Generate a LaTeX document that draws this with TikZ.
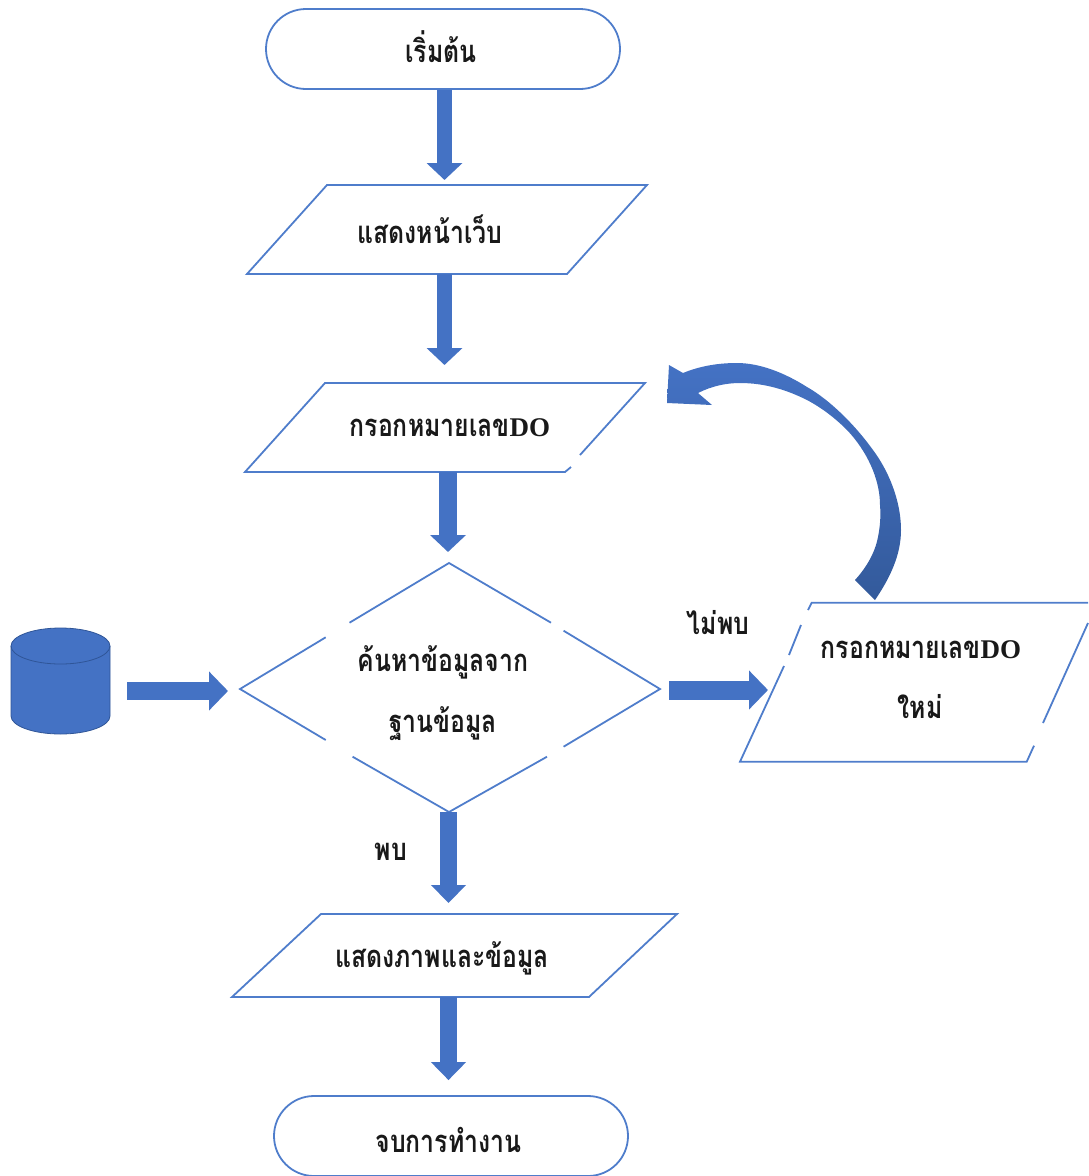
\documentclass[tikz,border=0pt]{standalone}
\usepackage{fontspec}
\usetikzlibrary{arrows.meta,shapes.misc}
\newfontfamily\thaifont[Script=Thai,FakeStretch=0.8,BoldFont={Loma Bold}]{Loma}
\newfontfamily\latinbold{Liberation Serif Bold}
\newcommand{\dolabel}{{\latinbold\fontsize{27}{27}\selectfont DO}}
\definecolor{flowline}{HTML}{4F7DCB}
\definecolor{flowfill}{HTML}{4472C4}
\definecolor{flowmid}{HTML}{3C66B0}
\definecolor{flowdark}{HTML}{335A9B}
\definecolor{rimdark}{HTML}{2F5597}
\tikzset{
  x=1pt,y=-1pt,
  outline/.style={draw=flowline,line width=1.8pt,line join=miter},
  box/.style={inner sep=0pt,outer sep=0pt,minimum width=#1},
  txt/.style={anchor=base,inner sep=0pt,outer sep=0pt,font=\thaifont\fontsize{31}{31}\selectfont,text=black!90},
  blk/.style args={#1/#2/#3}{draw=flowfill,line width=#1pt,-{Triangle[length=#3pt,width=#2pt,fill=flowfill]}},
}
\begin{document}
\begin{tikzpicture}
\useasboundingbox (0,0) rectangle (1088,1176);
% terminators
\node[rounded rectangle,outline,minimum width=354pt,minimum height=80pt,inner sep=0pt] (start) at (443,49) {};
\node[rounded rectangle,outline,minimum width=354pt,minimum height=80pt,inner sep=0pt] (finish) at (451,1136) {};
% bounding nodes of the outlined shapes
\node[box=400pt,minimum height=89pt] (show) at (447,229.5) {};
\node[box=400pt,minimum height=89pt] (enter) at (445,427.5) {};
\node[box=420pt,minimum height=249pt] (search) at (450,687.5) {};
\node[box=348pt,minimum height=159pt] (retry) at (914,682) {};
\node[box=445pt,minimum height=83pt] (result) at (454.5,955.5) {};
\node[box=99pt,minimum height=106pt] (db) at (60.5,681) {};
% parallelograms
\draw[outline] (327,185) -- (647,185) -- (567,274) -- (247,274) -- cycle;
\draw[outline] (580,455) -- (645,383) -- (325,383) -- (245,472) -- (565,472) -- (571,467);
\draw[outline] (321,914) -- (677,914) -- (589,997) -- (232,997) -- cycle;
\draw[outline] (808,610) -- (811.7,602.7) -- (1088,602.7);
\draw[outline] (801,625) -- (789,655);
\draw[outline] (784,666) -- (740,761.7) -- (1026.7,761.7) -- (1034,745.7);
\draw[outline] (1088,623) -- (1043,723);
% decision
\draw[outline] (349.5,622.7) -- (449,563) -- (551,622.7);
\draw[outline] (563.6,630.7) -- (660,689) -- (563.6,746.7);
\draw[outline] (547,756.7) -- (449,812) -- (352.6,756.7);
\draw[outline] (325.7,740) -- (240,689) -- (325.7,637.3);
% database
\path[fill=flowfill,draw=rimdark,line width=0.8pt] (11,646) arc[start angle=180,end angle=360,x radius=49.5,y radius=18] -- (110,716) arc[start angle=0,end angle=180,x radius=49.5,y radius=18] -- cycle;
\draw[rimdark,line width=0.8pt] (11,646) arc[start angle=180,end angle=0,x radius=49.5,y radius=18];
% connectors
\draw[blk=15/35/17] ([xshift=1.5pt]start.south) -- ([xshift=-2.5pt,yshift=5pt]show.north);
\draw[blk=15/35/17] ([xshift=-2.5pt]show.south) -- ([xshift=-0.5pt,yshift=18pt]enter.north);
\draw[blk=18/35/17] ([xshift=3pt]enter.south) -- ([xshift=-2pt,yshift=11pt]search.north);
\draw[blk=19/38/19] ([xshift=9pt,yshift=-2.5pt]search.east) -- ([xshift=28pt,yshift=-8pt]retry.west);
\draw[blk=18/38/19] ([xshift=17pt,yshift=-10pt]db.east) -- ([xshift=-12pt,yshift=-3.5pt]search.west);
\draw[blk=17/34/18] ([xshift=-1.5pt]search.south) -- ([xshift=-6pt,yshift=11pt]result.north);
\draw[blk=17/34/18] ([xshift=-6pt]result.south) -- ([xshift=-2.5pt,yshift=15pt]finish.north);
% loop-back curved arrow
\coordinate (loopfrom) at (875,600);
\coordinate (loopto) at (667,403);
\path[top color=flowfill,bottom color=flowdark,middle color=flowmid,draw=none] (loopfrom) .. controls (890,578) and (901,555) .. (901,530) .. controls (901,500) and (888,470) .. (873,450) .. controls (855,425) and (830,400) .. (807,387) .. controls (785,373) and (760,363) .. (737,363) .. controls (718,363) and (700,366) .. (683,373) -- (669,365) -- (loopto) -- (712,405) -- (698,393) .. controls (712,386) and (726,383) .. (740,383) .. controls (765,383) and (787,390) .. (807,400) .. controls (822,408) and (835,418) .. (847,430) .. controls (866,450) and (880,478) .. (880,505) .. controls (881,516) and (880,527) .. (878,537) .. controls (875,553) and (866,568) .. (855,580) -- cycle;
% texts
\node[txt] (t1) at (441,62) {\bfseries เริ่มต้น};
\node[txt] (t2) at (430,243) {\bfseries แสดงหน้าเว็บ};
\node[txt] (t3) at (450,436) {\bfseries กรอกหมายเลข\dolabel};
\node[txt] (t4) at (443,671) {\bfseries ค้นหาข้อมูลจาก};
\node[txt] (t5) at (443,732) {\bfseries ฐานข้อมูล};
\node[txt] (t6) at (718,634) {\bfseries ไม่พบ};
\node[txt] (t7) at (921,658) {\bfseries กรอกหมายเลข\dolabel};
\node[txt] (t8) at (920,718) {\bfseries ใหม่};
\node[txt] (t9) at (391,860) {\bfseries พบ};
\node[txt] (t10) at (442,967) {\bfseries แสดงภาพและข้อมูล};
\node[txt] (t11) at (448.5,1152) {\bfseries จบการทำงาน};
\end{tikzpicture}
\end{document}
